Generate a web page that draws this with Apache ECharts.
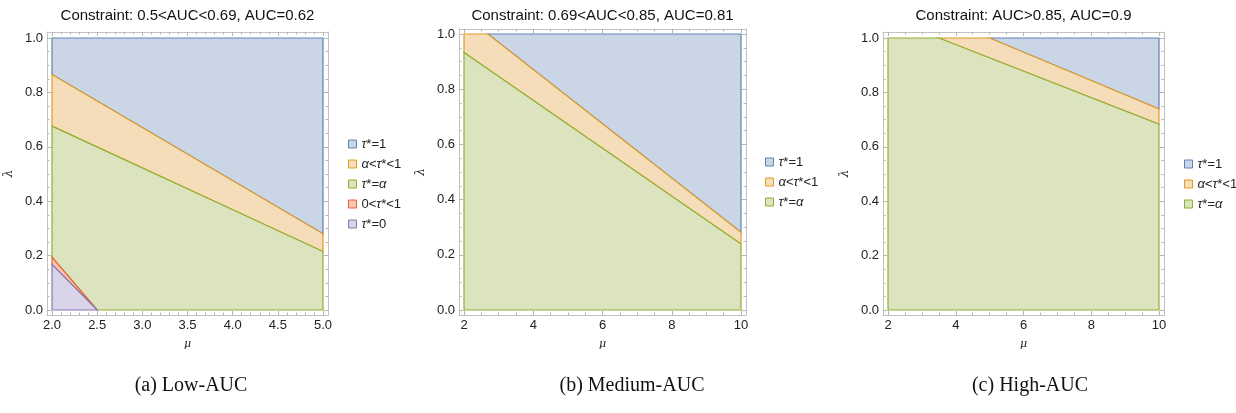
<!DOCTYPE html>
<html>
<head>
<meta charset="utf-8">
<title>tau* regions</title>
<script src="https://cdn.jsdelivr.net/npm/echarts@6.0.0/dist/echarts.min.js"></script>
<style>
    html, body { margin: 0; padding: 0; background: #fff; }
    #chart { width: 1236px; height: 413px; }
</style>
</head>
<body>
<div id="chart"></div>
<script>
// (a) Low-AUC, mu from 2 to 5 : region corners as [mu, lambda]
var lowTau1 = [[2, 1], [5, 1], [5, 0.28], [2, 0.866]];
var lowMid = [[2, 0.866], [5, 0.28], [5, 0.215], [2, 0.676]];
var lowAlpha = [[2, 0.676], [5, 0.215], [5, 0], [2.5, 0], [2, 0.194]];
var lowZeroOne = [[2, 0.194], [2.5, 0], [2, 0.168]];
var lowZero = [[2, 0.168], [2.5, 0], [2, 0]];

// (b) Medium-AUC, mu from 2 to 10
var medTau1 = [[2.69, 1], [10, 1], [10, 0.282]];
var medMid = [[2, 1], [2.69, 1], [10, 0.282], [10, 0.239], [2, 0.933]];
var medAlpha = [[2, 0.933], [10, 0.239], [10, 0], [2, 0]];

// (c) High-AUC, mu from 2 to 10
var highTau1 = [[5, 1], [10, 1], [10, 0.739]];
var highMid = [[3.5, 1], [5, 1], [10, 0.739], [10, 0.683]];
var highAlpha = [[2, 0], [2, 1], [3.5, 1], [10, 0.683], [10, 0]];

// tick labels
var lowMuTicks = [2, 2.5, 3, 3.5, 4, 4.5, 5];
var wideMuTicks = [2, 4, 6, 8, 10];
var lambdaTicks = [0, 0.2, 0.4, 0.6, 0.8, 1];

var titles = ['Constraint: 0.5<AUC<0.69, AUC=0.62', 'Constraint: 0.69<AUC<0.85, AUC=0.81', 'Constraint: AUC>0.85, AUC=0.9'];
var captions = ['(a) Low-AUC', '(b) Medium-AUC', '(c) High-AUC'];

var regionStyle = {
    tau1:    { fill: '#cad6e6', stroke: '#5e81b5', label: '{i|τ}*=1' },
    mid:     { fill: '#f5ddb9', stroke: '#e19c24', label: '{i|α}<{i|τ}*<1' },
    alpha:   { fill: '#dbe4bf', stroke: '#8fb032', label: '{i|τ}*={i|α}' },
    zeroOne: { fill: '#f6c6b6', stroke: '#eb6235', label: '0<{i|τ}*<1' },
    zero:    { fill: '#d9d4e8', stroke: '#8778b3', label: '{i|τ}*=0' }
};

var panels = [
    { frame: [47, 32, 281, 283], padX: 5, padTop: 6, padBottom: 5, mu: [2, 5], muTicks: lowMuTicks, muStep: 0.1, digits: 1,
      legend: [343, 132], titleX: 187.5, captionX: 191,
      regions: [['tau1', lowTau1], ['mid', lowMid], ['alpha', lowAlpha], ['zeroOne', lowZeroOne], ['zero', lowZero]] },
    { frame: [459, 29, 287, 286], padX: 5, padTop: 5, padBottom: 5, mu: [2, 10], muTicks: wideMuTicks, muStep: 0.5, digits: 0,
      legend: [760, 150], titleX: 602.5, captionX: 632,
      regions: [['tau1', medTau1], ['mid', medMid], ['alpha', medAlpha]] },
    { frame: [883, 32, 281, 283], padX: 5, padTop: 6, padBottom: 5, mu: [2, 10], muTicks: wideMuTicks, muStep: 0.5, digits: 0,
      legend: [1179, 152], titleX: 1023.5, captionX: 1030,
      regions: [['tau1', highTau1], ['mid', highMid], ['alpha', highAlpha]] }
];

var FONT = '"Liberation Sans", Arial, sans-serif';

function padRange(lo, hi, sizePx, padLo, padHi) {
    var per = (hi - lo) / (sizePx - padLo - padHi);
    return [lo - padLo * per, hi + padHi * per];
}

function minorTicks(lo, hi, step, majors) {
    var out = [];
    var n = Math.round((hi - lo) / step);
    for (var i = 0; i <= n; i++) {
        var v = +(lo + i * step).toFixed(4);
        var isMajor = majors.some(function (m) { return Math.abs(m - v) < 1e-6; });
        if (!isMajor) out.push(v);
    }
    return out;
}

function makeAxis(gi, pos, range, ticks, major, labels, digits) {
    return {
        type: 'value',
        gridIndex: gi,
        position: pos,
        min: range[0],
        max: range[1],
        axisLine: { show: major, onZero: false, lineStyle: { color: '#c2c2c2', width: 1 } },
        axisTick: { show: true, inside: true, length: major ? 4 : 2.5, customValues: ticks,
                    lineStyle: { color: '#b4b4b4', width: 1 } },
        axisLabel: labels ? {
            show: true, customValues: ticks, margin: 4, color: '#222', fontSize: 13, fontFamily: FONT,
            formatter: function (v) { return (+v).toFixed(digits); }
        } : { show: false },
        splitLine: { show: false }
    };
}

var option = {
    backgroundColor: '#fff',
    animation: false,
    grid: [], xAxis: [], yAxis: [], series: [], legend: [], graphic: []
};

panels.forEach(function (p, gi) {
    var f = p.frame;
    option.grid.push({ left: f[0], top: f[1], width: f[2], height: f[3] });

    var muRange = padRange(p.mu[0], p.mu[1], f[2], p.padX, p.padX);
    var lamRange = padRange(0, 1, f[3], p.padBottom, p.padTop);
    var muMinor = minorTicks(p.mu[0], p.mu[1], p.muStep, p.muTicks);
    var lamMinor = minorTicks(0, 1, 0.05, lambdaTicks);

    var xBase = option.xAxis.length;
    var yBase = option.yAxis.length;

    // frame: major + minor ticks on all four sides
    var xMain = makeAxis(gi, 'bottom', muRange, p.muTicks, true, true, p.digits);
    xMain.name = 'μ';
    xMain.nameLocation = 'middle';
    xMain.nameGap = 24;
    xMain.nameTextStyle = { fontStyle: 'italic', fontSize: 11, color: '#222', fontFamily: '"DejaVu Serif", serif' };
    option.xAxis.push(xMain);
    option.xAxis.push(makeAxis(gi, 'bottom', muRange, muMinor, false, false));
    option.xAxis.push(makeAxis(gi, 'top', muRange, p.muTicks, true, false));
    option.xAxis.push(makeAxis(gi, 'top', muRange, muMinor, false, false));

    var yMain = makeAxis(gi, 'left', lamRange, lambdaTicks, true, true, 1);
    yMain.name = 'λ';
    yMain.nameLocation = 'middle';
    yMain.nameRotate = 90;
    yMain.nameGap = 32;
    yMain.nameTextStyle = { fontStyle: 'italic', fontSize: 12, color: '#222', fontFamily: '"DejaVu Serif", serif' };
    option.yAxis.push(yMain);
    option.yAxis.push(makeAxis(gi, 'left', lamRange, lamMinor, false, false));
    option.yAxis.push(makeAxis(gi, 'right', lamRange, lambdaTicks, true, false));
    option.yAxis.push(makeAxis(gi, 'right', lamRange, lamMinor, false, false));

    // regions
    p.regions.forEach(function (r) {
        var key = r[0], poly = r[1], st = regionStyle[key];
        option.series.push({
            type: 'custom',
            name: key,
            coordinateSystem: 'cartesian2d',
            xAxisIndex: xBase,
            yAxisIndex: yBase,
            silent: true,
            itemStyle: { color: st.fill, borderColor: st.stroke },
            data: poly,
            renderItem: function (params, api) {
                if (params.dataIndex !== 0) return null;
                var pts = poly.map(function (d) { return api.coord(d); });
                return {
                    type: 'polygon',
                    shape: { points: pts },
                    style: { fill: st.fill, stroke: st.stroke, lineWidth: 1.2, lineJoin: 'miter' }
                };
            }
        });
    });

    option.legend.push({
        orient: 'vertical',
        left: p.legend[0],
        top: p.legend[1],
        itemWidth: 8,
        itemHeight: 8,
        itemGap: 6,
        selectedMode: false,
        data: p.regions.map(function (r) {
            var st = regionStyle[r[0]];
            return { name: r[0], icon: 'rect', itemStyle: { color: st.fill, borderColor: st.stroke, borderWidth: 1 } };
        }),
        formatter: function (name) { return regionStyle[name].label; },
        textStyle: {
            fontSize: 13, lineHeight: 14, color: '#222', fontFamily: FONT,
            rich: { i: { fontStyle: 'italic', fontSize: 13, lineHeight: 14, color: '#222', fontFamily: FONT } }
        }
    });

    option.graphic.push({
        type: 'text', x: p.titleX, y: 15.5, silent: true,
        style: { text: titles[gi], fill: '#111', fontSize: 15, fontFamily: FONT,
                 align: 'center', verticalAlign: 'middle', textAlign: 'center', textVerticalAlign: 'middle' }
    });
    option.graphic.push({
        type: 'text', x: p.captionX, y: 386, silent: true,
        style: { text: captions[gi], fill: '#111', fontSize: 20, fontFamily: '"Liberation Serif", "DejaVu Serif", serif',
                 align: 'center', verticalAlign: 'middle', textAlign: 'center', textVerticalAlign: 'middle' }
    });
});

var chart = echarts.init(document.getElementById('chart'));
chart.setOption(option);
</script>
</body>
</html>
